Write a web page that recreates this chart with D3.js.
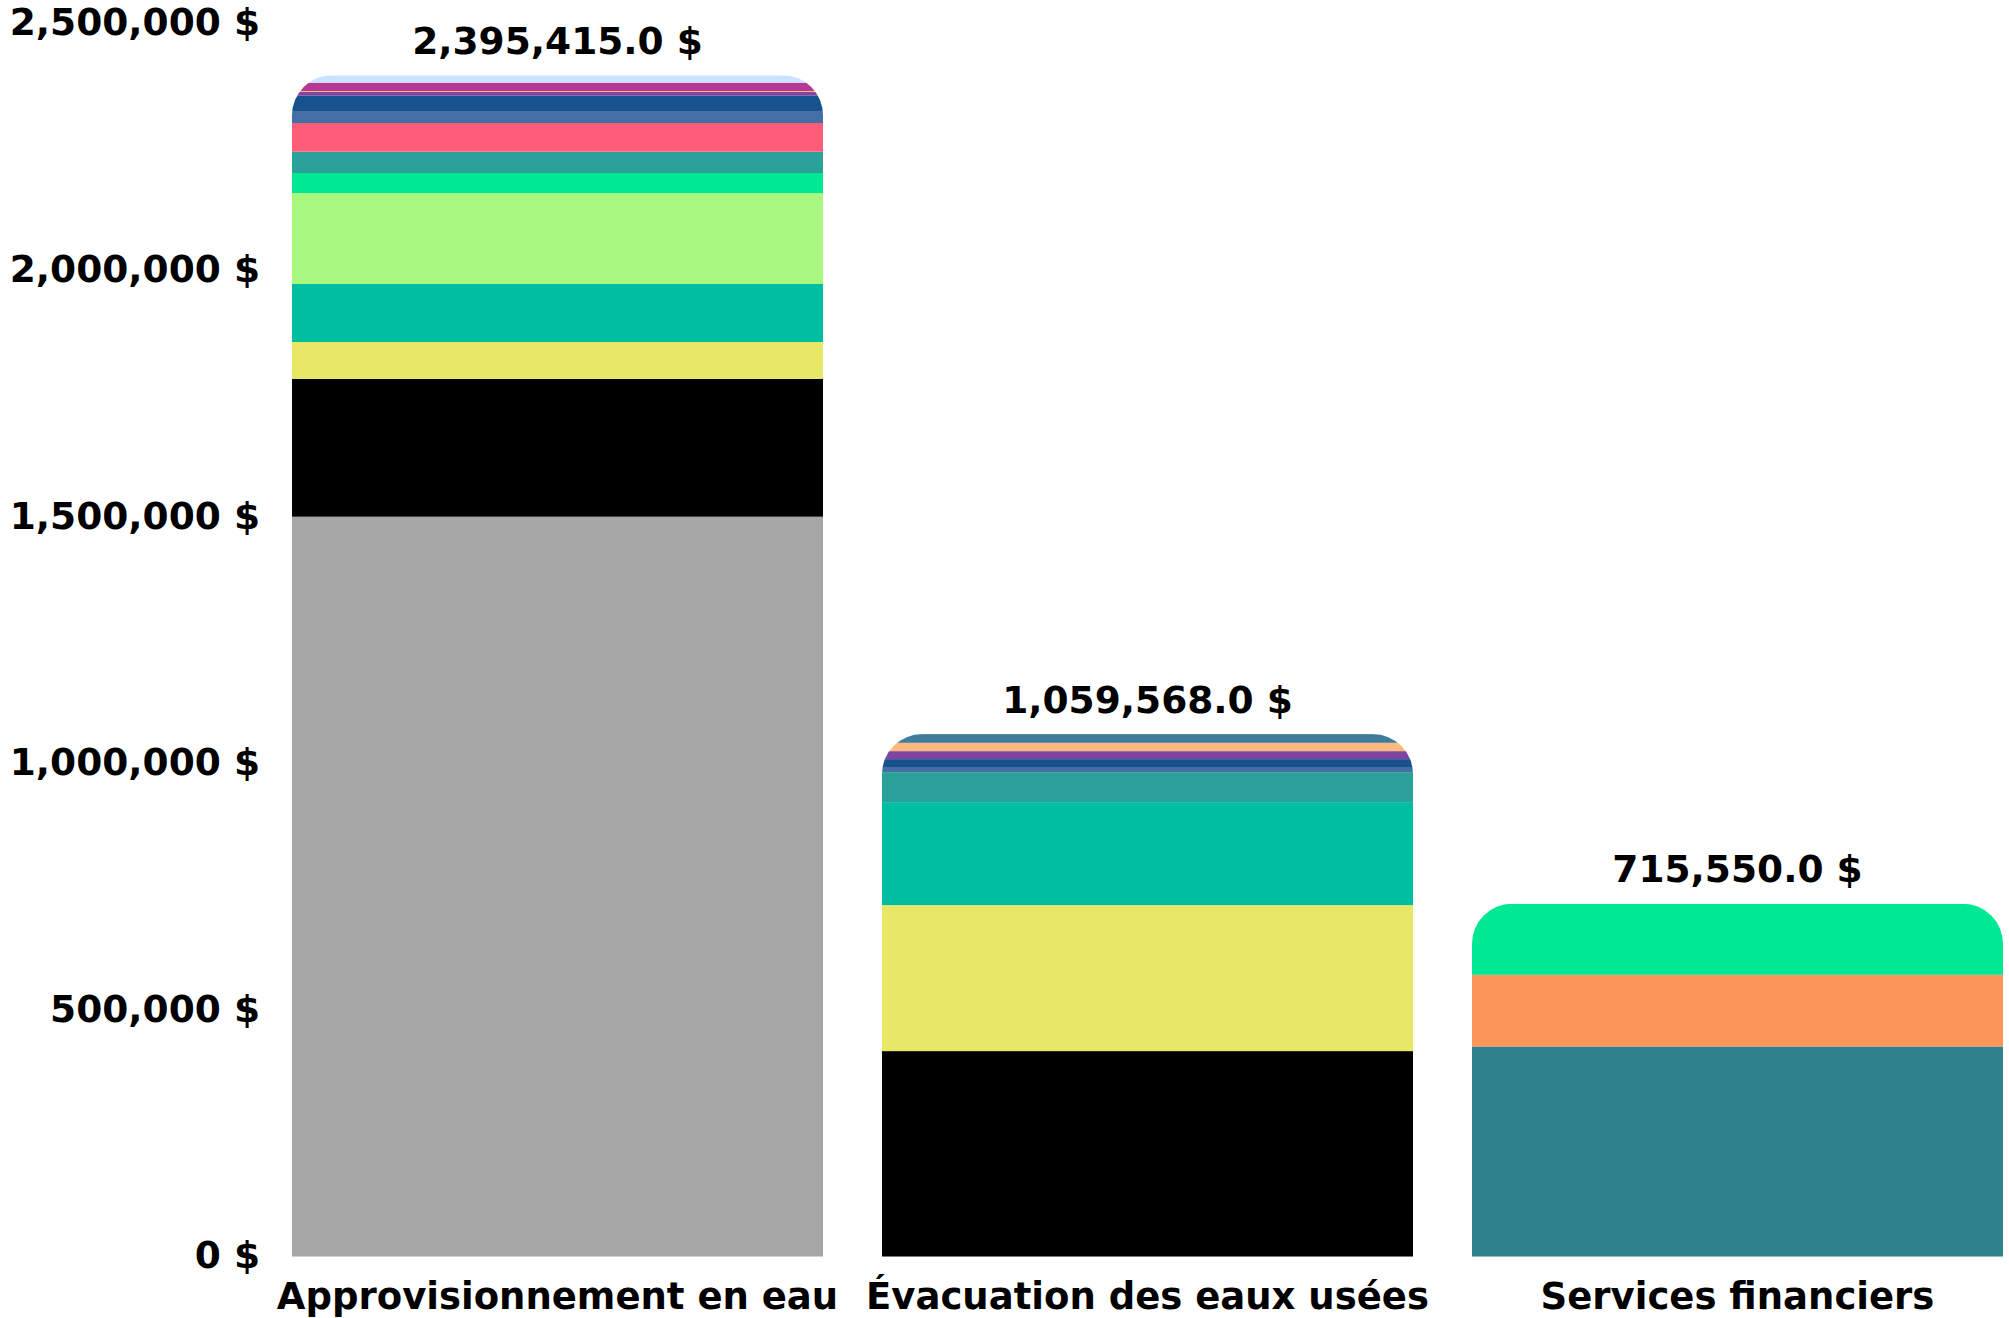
<!DOCTYPE html>
<html>
<head>
<meta charset="utf-8">
<script src="https://cdn.jsdelivr.net/npm/d3@7"></script>
<style>
  html, body { margin: 0; padding: 0; background: #fff; }
  svg { display: block; }
  text { font-family: "DejaVu Sans", Verdana, sans-serif; font-weight: bold; fill: #000; }
</style>
</head>
<body>
<svg id="chart" width="2009" height="1318"></svg>
<script>
// ---- Data ----
const categories = ["Approvisionnement en eau", "Évacuation des eaux usées", "Services financiers"];
const totals = [2395415.0, 1059568.0, 715550.0];
const tickValues = [0, 500000, 1000000, 1500000, 2000000, 2500000];

// stacked segments, bottom to top
const approValues = [1500400, 279200, 75000, 117600, 184500, 40550, 43200, 58200, 24300, 31000, 7500, 2000, 16900, 15065];
const evacValues = [416868, 296000, 208800, 60800, 8800, 17600, 16200, 16900, 17600];
const financeValues = [426250, 145300, 144000];

// segment colours (same order as the values above)
const approColors = ["#a6a6a6", "#000000", "#e9e866", "#00bfa0", "#a8f77e", "#00e894", "#2aa29a", "#ff5c7a", "#436ea6", "#17528f", "#7b45a0", "#fdb97d", "#b83994", "#c9e2ff"];
const evacColors = ["#000000", "#e9e866", "#00bfa0", "#2aa29a", "#436ea6", "#17528f", "#7b45a0", "#fdb97d", "#3f7d9b"];
const financeColors = ["#2f818b", "#fc9659", "#00e894"];

const seriesValues = [approValues, evacValues, financeValues];
const seriesColors = [approColors, evacColors, financeColors];

// ---- Layout ----
const svg = d3.select("#chart");
const x = d3.scaleBand().domain(categories).range([292, 2003]).paddingInner(0.1).paddingOuter(0);
const y = d3.scaleLinear().domain([0, 2500000]).range([1256.7, 23.7]);
const radius = 40;
const tickFont = 37.5;
const totalFont = 37.5;
const catFont = 37;

// y axis
const yAxis = d3.axisLeft(y)
  .tickValues(tickValues)
  .tickSize(0)
  .tickPadding(0)
  .tickFormat(d => d3.format(",")(d) + " $");
const gAxis = svg.append("g").attr("transform", "translate(260,0)").call(yAxis);
gAxis.attr("font-family", null).attr("font-size", null);
gAxis.select(".domain").remove();
gAxis.selectAll("text")
  .attr("dy", "0.3em")
  .style("font-size", tickFont + "px")
  .style("font-family", "'DejaVu Sans', Verdana, sans-serif")
  .style("font-weight", "bold")
  .style("fill", "#000");

const defs = svg.append("defs");

categories.forEach((cat, i) => {
  const vals = seriesValues[i];
  const cols = seriesColors[i];
  const total = d3.sum(vals);
  const x0 = x(cat), w = x.bandwidth();
  const top = y(total), base = y(0);

  const p = d3.path();
  p.moveTo(x0, base);
  p.lineTo(x0, top + radius);
  p.arcTo(x0, top, x0 + radius, top, radius);
  p.lineTo(x0 + w - radius, top);
  p.arcTo(x0 + w, top, x0 + w, top + radius, radius);
  p.lineTo(x0 + w, base);
  p.closePath();

  defs.append("clipPath").attr("id", "clip" + i).append("path").attr("d", p.toString());

  const cum = d3.cumsum(vals);
  const segs = vals.map((v, j) => ({ y0: cum[j] - v, y1: cum[j], color: cols[j] }));

  const g = svg.append("g").attr("clip-path", `url(#clip${i})`);
  g.selectAll("rect").data(segs).join("rect")
    .attr("x", x0)
    .attr("width", w)
    .attr("y", d => y(d.y1))
    .attr("height", d => y(d.y0) - y(d.y1))
    .attr("fill", d => d.color);

  // total label
  svg.append("text")
    .attr("x", x0 + w / 2)
    .attr("y", y(totals[i]) - 21.5)
    .attr("text-anchor", "middle")
    .attr("font-size", totalFont)
    .text(d3.format(",.1f")(totals[i]) + " $");

  // category label
  svg.append("text")
    .attr("x", x0 + w / 2)
    .attr("y", 1309)
    .attr("text-anchor", "middle")
    .attr("font-size", catFont)
    .text(cat);
});
</script>
</body>
</html>
